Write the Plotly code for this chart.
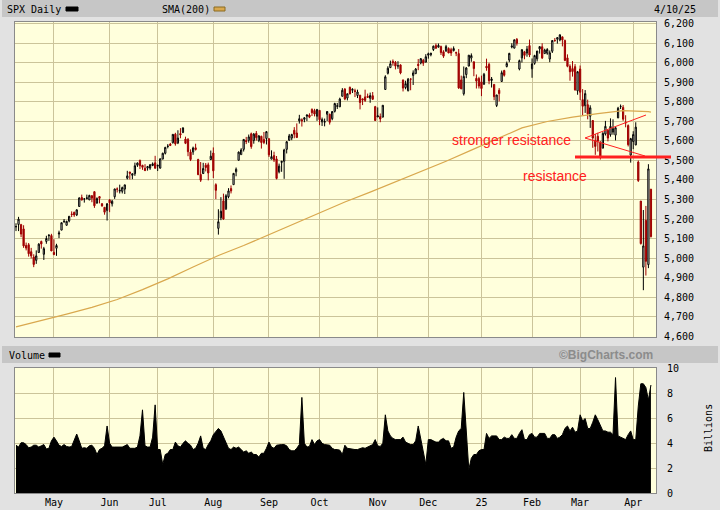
import plotly.graph_objects as go
import pandas as pd

# trading calendar 4/10/24 - 4/10/25
holidays = ["2024-05-27", "2024-06-19", "2024-07-04", "2024-09-02", "2024-11-28",
            "2024-12-25", "2025-01-01", "2025-01-09", "2025-01-20", "2025-02-17"]
dates = [d.strftime("%Y-%m-%d") for d in
         pd.bdate_range("2024-04-10", "2025-04-10", freq="C", holidays=holidays)]

opens = [
    # Apr 24
    5160, 5172, 5171, 5149, 5064, 5068, 5032, 5005, 4988, 5028, 5085, 5019, 5085, 5114, 5115,
    # May
    5029, 5050, 5123, 5143, 5187, 5168, 5190, 5226, 5234, 5221, 5264, 5310, 5303, 5305, 5298,
    5319, 5340, 5282, 5315, 5278, 5260, 5244,
    # Jun
    5298, 5278, 5314, 5354, 5343, 5342, 5353, 5409, 5441, 5424, 5432, 5476, 5500, 5475, 5460,
    5461, 5461, 5474, 5488,
    # Jul
    5471, 5461, 5507, 5537, 5572, 5584, 5591, 5635, 5590, 5638, 5644, 5610, 5608, 5543, 5544,
    5565, 5505, 5428, 5433, 5476, 5478, 5505,
    # Aug
    5538, 5376, 5152, 5206, 5293, 5252, 5314, 5356, 5376, 5442, 5501, 5530, 5557, 5602, 5603,
    5637, 5602, 5639, 5602, 5624, 5607, 5613,
    # Sep
    5612, 5507, 5525, 5508, 5442, 5490, 5496, 5557, 5604, 5615, 5655, 5641, 5703, 5709, 5711,
    5727, 5733, 5762, 5756, 5727,
    # Oct
    5757, 5698, 5696, 5737, 5737, 5714, 5752, 5778, 5775, 5829, 5866, 5820, 5875, 5860, 5858,
    5833, 5835, 5816, 5826, 5829, 5819, 5832, 5776,
    # Nov
    5723, 5725, 5722, 5864, 5947, 5976, 6008, 6003, 5985, 5990, 5912, 5874, 5858, 5918, 5936,
    5945, 5993, 6000, 6014, 6004,
    # Dec
    6040, 6042, 6069, 6090, 6081, 6084, 6057, 6060, 6074, 6068, 6063, 6053, 6048, 5913, 5842,
    5941, 5984, 6025, 6006, 5921, 5920,
    # Jan 25
    5903, 5891, 5983, 5993, 5910, 5890, 5782, 5860, 5905, 5961, 5982, 6015, 6082, 6076, 6121,
    5969, 6026, 6057, 6051, 6089,
    # Feb
    5970, 5998, 6021, 6072, 6083, 6048, 6050, 6020, 6060, 6116, 6122, 6118, 6134, 6115, 6026,
    5983, 5971, 5981, 5857,
    # Mar
    5969, 5812, 5781, 5786, 5727, 5705, 5603, 5624, 5595, 5563, 5636, 5655, 5632, 5646, 5630,
    5718, 5776, 5772, 5696, 5679, 5528,
    # Apr
    5597, 5580, 5492, 5292, 4953, 5193, 4966, 5353,
]

highs = [
    5178, 5211, 5175, 5168, 5079, 5077, 5052, 5019, 5039, 5076, 5089, 5057, 5114, 5123, 5124,
    5096, 5073, 5140, 5181, 5200, 5191, 5215, 5239, 5238, 5250, 5311, 5325, 5305, 5325, 5324,
    5323, 5342, 5311, 5315, 5282, 5260, 5281,
    5302, 5298, 5355, 5362, 5376, 5366, 5376, 5447, 5442, 5433, 5489, 5490, 5505, 5478, 5481,
    5472, 5482, 5490, 5524,
    5479, 5509, 5540, 5570, 5584, 5590, 5635, 5642, 5655, 5666, 5670, 5622, 5615, 5557, 5571,
    5586, 5509, 5492, 5488, 5487, 5489, 5551,
    5567, 5383, 5250, 5312, 5330, 5327, 5358, 5372, 5436, 5464, 5546, 5563, 5608, 5621, 5633,
    5643, 5641, 5651, 5630, 5627, 5646, 5651,
    5612, 5552, 5545, 5523, 5484, 5497, 5560, 5600, 5636, 5637, 5671, 5690, 5734, 5716, 5722,
    5736, 5742, 5767, 5765, 5763,
    5757, 5720, 5715, 5753, 5740, 5753, 5796, 5795, 5822, 5871, 5871, 5843, 5879, 5870, 5868,
    5863, 5835, 5817, 5863, 5843, 5848, 5851, 5780,
    5772, 5741, 5784, 5937, 5983, 6012, 6018, 6010, 6009, 5993, 5916, 5909, 5923, 5920, 5962,
    5974, 6020, 6025, 6021, 6045,
    6053, 6052, 6089, 6100, 6100, 6089, 6065, 6093, 6080, 6078, 6085, 6058, 6071, 5935, 5982,
    5979, 6040, 6049, 6007, 5941, 5929,
    5935, 5949, 6022, 6001, 5928, 5890, 5836, 5871, 5961, 5965, 6007, 6052, 6101, 6119, 6128,
    6017, 6070, 6062, 6087, 6120,
    6023, 6042, 6062, 6084, 6101, 6073, 6076, 6064, 6117, 6128, 6130, 6147, 6134, 6120, 6044,
    5993, 6010, 5994, 5959,
    5987, 5866, 5861, 5812, 5783, 5706, 5636, 5642, 5598, 5645, 5703, 5655, 5716, 5711, 5670,
    5775, 5787, 5784, 5732, 5685, 5616,
    5650, 5696, 5500, 5292, 5246, 5267, 5481, 5353,
]

lows = [
    5138, 5138, 5107, 5052, 5039, 5007, 4998, 4953, 4970, 5027, 5048, 4990, 5073, 5088, 5036,
    5014, 5011, 5102, 5143, 5179, 5166, 5183, 5210, 5211, 5215, 5264, 5296, 5284, 5300, 5297,
    5286, 5257, 5278, 5280, 5263, 5222, 5192,
    5235, 5264, 5303, 5336, 5331, 5331, 5328, 5403, 5403, 5404, 5421, 5467, 5456, 5452, 5447,
    5448, 5452, 5471, 5459,
    5446, 5458, 5507, 5531, 5562, 5574, 5587, 5576, 5584, 5614, 5640, 5584, 5522, 5497, 5529,
    5551, 5427, 5390, 5431, 5444, 5398, 5502,
    5410, 5302, 5120, 5194, 5196, 5246, 5306, 5331, 5376, 5419, 5501, 5530, 5546, 5584, 5591,
    5560, 5586, 5602, 5594, 5561, 5584, 5582,
    5518, 5506, 5492, 5403, 5434, 5442, 5406, 5536, 5600, 5604, 5614, 5615, 5689, 5674, 5696,
    5702, 5717, 5728, 5726, 5703,
    5681, 5677, 5675, 5702, 5684, 5706, 5746, 5764, 5775, 5829, 5809, 5808, 5840, 5846, 5825,
    5820, 5762, 5784, 5800, 5823, 5796, 5810, 5703,
    5723, 5696, 5722, 5864, 5941, 5976, 5986, 5967, 5970, 5942, 5854, 5865, 5854, 5860, 5887,
    5945, 5963, 5993, 5985, 6003,
    6022, 6034, 6061, 6075, 6079, 6041, 6026, 6060, 6051, 6036, 6059, 6035, 5867, 5866, 5833,
    5922, 5983, 6006, 5932, 5869, 5869,
    5830, 5888, 5960, 5891, 5874, 5809, 5774, 5803, 5905, 5930, 5977, 6004, 6075, 6075, 6089,
    5962, 6002, 6019, 6032, 6030,
    5924, 5991, 6008, 6048, 6020, 6048, 6042, 6004, 6051, 6108, 6099, 6111, 6085, 6009, 5978,
    5909, 5930, 5858, 5837,
    5810, 5732, 5744, 5711, 5667, 5565, 5529, 5546, 5505, 5563, 5628, 5598, 5622, 5632, 5603,
    5718, 5764, 5703, 5670, 5572, 5489,
    5558, 5578, 5390, 5069, 4835, 4910, 4948, 5105,
]

closes = [
    5161, 5199, 5123, 5062, 5051, 5022, 5011, 4967, 5011, 5071, 5072, 5048, 5100, 5116, 5036,
    5018, 5064, 5128, 5181, 5188, 5188, 5214, 5223, 5221, 5247, 5308, 5297, 5303, 5308, 5321,
    5307, 5268, 5305, 5306, 5267, 5235, 5278,
    5283, 5291, 5354, 5353, 5347, 5361, 5375, 5421, 5434, 5432, 5473, 5487, 5473, 5465, 5448,
    5469, 5478, 5483, 5460,
    5475, 5509, 5537, 5567, 5573, 5577, 5634, 5585, 5615, 5631, 5667, 5588, 5545, 5505, 5564,
    5556, 5427, 5399, 5459, 5464, 5436, 5522,
    5447, 5347, 5186, 5240, 5200, 5319, 5344, 5344, 5434, 5455, 5543, 5554, 5608, 5597, 5621,
    5571, 5635, 5617, 5626, 5592, 5592, 5648,
    5529, 5520, 5503, 5408, 5471, 5496, 5554, 5596, 5626, 5633, 5635, 5618, 5714, 5703, 5719,
    5733, 5722, 5745, 5738, 5762,
    5709, 5710, 5700, 5751, 5696, 5751, 5792, 5780, 5815, 5860, 5815, 5842, 5841, 5865, 5854,
    5851, 5797, 5810, 5808, 5824, 5833, 5814, 5705,
    5729, 5713, 5783, 5929, 5973, 5996, 6001, 5984, 5985, 5949, 5871, 5894, 5917, 5917, 5949,
    5969, 5987, 6022, 5999, 6032,
    6047, 6050, 6086, 6075, 6090, 6053, 6035, 6084, 6051, 6051, 6074, 6051, 5872, 5867, 5931,
    5974, 6040, 6038, 5971, 5907, 5882,
    5869, 5942, 5975, 5909, 5918, 5827, 5836, 5843, 5950, 5937, 5997, 6049, 6086, 6119, 6101,
    6012, 6068, 6039, 6071, 6041,
    5995, 6038, 6061, 6084, 6026, 6066, 6069, 6052, 6115, 6115, 6130, 6144, 6118, 6013, 5983,
    5955, 5956, 5862, 5955,
    5850, 5778, 5843, 5739, 5770, 5615, 5572, 5599, 5522, 5639, 5675, 5615, 5675, 5663, 5668,
    5768, 5777, 5712, 5693, 5581, 5612,
    5633, 5671, 5397, 5074, 5062, 4983, 5457, 5110,
]

# volume, billions
volume = [
    3.85, 3.7, 4.05, 4.05, 3.9, 3.65, 3.7, 3.85, 3.85, 3.7, 3.8, 3.9, 3.55, 3.6, 4.2,
    4.5, 4.2, 3.85, 3.75, 3.9, 3.75, 3.7, 3.75, 4.3, 4.75, 4.2, 3.6, 3.65, 3.6, 3.8, 3.85,
    3.6, 3.1, 3.5, 3.6, 3.8, 5.4,
    4.0, 3.7, 3.7, 3.7, 3.75, 3.7, 3.8, 3.9, 3.6, 3.6, 3.6, 3.7, 4.6, 6.7, 3.8, 3.7, 3.7,
    4.5, 7.1,
    3.5, 3.5, 2.3, 3.1, 3.2, 3.5, 3.5, 4.1, 3.8, 3.7, 4.0, 4.2, 4.0, 3.85, 3.5, 3.6, 4.0,
    4.6, 3.6, 3.5, 3.9, 4.2,
    4.7, 5.0, 5.2, 5.0, 4.5, 4.0, 3.6, 3.5, 3.7, 3.6, 3.7, 3.5, 3.3, 3.4, 3.2, 3.3, 3.1,
    3.1, 2.9, 3.2, 3.2, 3.6,
    4.1, 3.7, 3.6, 3.85, 3.9, 3.9, 3.9, 3.8, 3.5, 3.4, 3.4, 3.6, 3.9, 7.7, 4.0, 3.7, 3.75,
    4.3, 3.9, 4.2,
    4.3, 4.0, 3.9, 3.85, 3.85, 3.6, 3.5, 3.5, 3.45, 3.1, 3.85, 3.6, 3.55, 3.5, 3.5, 3.5,
    3.6, 3.65, 3.6, 3.7, 3.85, 3.9, 4.3,
    3.8, 3.75, 4.0, 6.3, 5.0, 4.6, 4.4, 4.3, 4.3, 4.3, 4.5, 4.1, 4.0, 3.9, 3.9, 4.2, 5.4,
    4.3, 3.5, 2.3,
    4.3, 4.3, 4.2, 4.1, 4.1, 4.3, 4.4, 4.2, 4.2, 3.6, 3.7, 4.5, 5.0, 5.2, 8.1, 5.0, 1.9,
    2.8, 3.1, 3.1, 3.4,
    3.5, 3.5, 4.8, 4.4, 4.6, 4.6, 4.6, 4.3, 4.3, 4.5, 4.4, 4.4, 4.7, 4.4, 4.4, 4.8, 5.1,
    4.3, 4.3, 4.7,
    4.8, 4.5, 4.5, 4.8, 4.8, 4.8, 4.4, 4.4, 4.7, 4.7, 4.4, 4.5, 4.7, 5.2, 5.4, 5.0, 5.3,
    4.9, 5.0,
    6.3, 5.8, 6.0, 5.2, 5.2, 5.7, 6.3, 5.9, 5.4, 5.0, 5.0, 4.9, 4.9, 4.7, 9.3, 4.6, 4.5,
    4.4, 4.3, 4.7, 5.0,
    4.3, 4.3, 7.0, 8.8, 8.8, 8.5, 7.5, 8.7,
]

# 200-day SMA read every 10 sessions (plus the last one)
sma_idx = list(range(0, 252, 10)) + [251]
sma200 = [4647, 4679, 4712, 4747, 4787, 4838, 4893, 4954, 5013, 5064, 5120, 5175, 5231,
          5287, 5338, 5390, 5442, 5496, 5553, 5610, 5667, 5700, 5722, 5740, 5756, 5750, 5748]

month_labels = ["May", "Jun", "Jul", "Aug", "Sep", "Oct", "Nov", "Dec", "25", "Feb", "Mar", "Apr"]
month_starts = []
for d in dates:
    if d[:7] != dates[0][:7] and (not month_starts or month_starts[-1][:7] != d[:7]):
        month_starts.append(d)

assert len(dates) == len(opens) == len(highs) == len(lows) == len(closes) == len(volume)

W, H = 720, 510
def px(x):
    return x / W
def py(y):
    return 1 - y / H

GRID = "#cbc49a"
MONO = "DejaVu Sans Mono"

fig = go.Figure()
fig.add_trace(go.Candlestick(
    x=dates, open=opens, high=highs, low=lows, close=closes,
    increasing=dict(line=dict(color="black", width=1), fillcolor="white"),
    decreasing=dict(line=dict(color="#a00000", width=1), fillcolor="#a00000"),
    whiskerwidth=0, showlegend=False, hoverinfo="skip",
))
fig.add_trace(go.Scatter(
    x=[dates[i] for i in sma_idx], y=sma200, mode="lines",
    line=dict(color="#d9a84e", width=1.2), showlegend=False, hoverinfo="skip",
))
fig.add_trace(go.Scatter(
    x=dates, y=volume, mode="lines", fill="tozeroy",
    line=dict(color="black", width=1), fillcolor="black",
    xaxis="x2", yaxis="y2", showlegend=False, hoverinfo="skip",
))

xr = [-0.4, 253]
common_x = dict(type="category", range=xr, tickvals=month_starts, ticktext=month_labels,
                showgrid=True, gridcolor=GRID, gridwidth=1, zeroline=False,
                rangeslider=dict(visible=False), showline=True, linecolor="#8a8a8a",
                mirror=True, ticks="", domain=[px(15), px(656)], automargin=False,
                tickfont=dict(family=MONO, size=10, color="black"))

fig.update_layout(
    width=W, height=H, margin=dict(l=0, r=0, t=0, b=0),
    paper_bgcolor="#e2e2e2", plot_bgcolor="#ffffdc",
    xaxis=dict(common_x, anchor="y", showticklabels=False),
    xaxis2=dict(common_x, anchor="y2", matches="x", showticklabels=True),
    yaxis=dict(domain=[py(337), py(22)], range=[4595, 6210], side="right", dtick=100,
               tickformat=",", showgrid=True, gridcolor=GRID, zeroline=False,
               showline=True, linecolor="#8a8a8a", mirror=True, ticks="", automargin=False,
               ticklabelstandoff=5, tickfont=dict(family=MONO, size=10, color="black")),
    yaxis2=dict(domain=[py(493), py(368)], range=[0, 10.07], side="right", dtick=2,
                showgrid=True, gridcolor=GRID, zeroline=False, automargin=False,
                showline=True, linecolor="#8a8a8a", mirror=True, ticks="",
                ticklabelstandoff=8, tickfont=dict(family=MONO, size=10, color="black")),
)

shapes = [
    # header bands
    dict(type="rect", xref="paper", yref="paper", x0=px(2), x1=px(718), y0=py(17), y1=py(0),
         fillcolor="#c6c6c6", line=dict(width=0), layer="below"),
    dict(type="rect", xref="paper", yref="paper", x0=px(2), x1=px(718), y0=py(363), y1=py(346),
         fillcolor="#c6c6c6", line=dict(width=0), layer="below"),
    # legend swatches
    dict(type="rect", xref="paper", yref="paper", x0=px(66), x1=px(78), y0=py(11), y1=py(7),
         fillcolor="black", line=dict(color="black", width=1)),
    dict(type="rect", xref="paper", yref="paper", x0=px(214), x1=px(225), y0=py(11), y1=py(7),
         fillcolor="#d9a84e", line=dict(color="#8a6a20", width=1)),
    dict(type="rect", xref="paper", yref="paper", x0=px(49), x1=px(60), y0=py(357), y1=py(353),
         fillcolor="black", line=dict(color="black", width=1)),
    # resistance markup
    dict(type="line", xref="paper", yref="paper", x0=px(575), x1=px(671), y0=py(157), y1=py(157),
         line=dict(color="#ff2020", width=3)),
    dict(type="line", xref="paper", yref="paper", x0=px(585), x1=px(646), y0=py(138), y1=py(115),
         line=dict(color="#ff2020", width=1)),
    dict(type="line", xref="paper", yref="paper", x0=px(585), x1=px(645), y0=py(138), y1=py(156),
         line=dict(color="#ff2020", width=1)),
]

def label(text, x, y, anchor="left", size=10, color="black", family=MONO, angle=0, bold=False):
    if bold:
        text = "<b>" + text + "</b>"
    return dict(text=text, x=px(x), y=py(y), xref="paper", yref="paper", showarrow=False,
                xanchor=anchor, yanchor="middle", textangle=angle,
                font=dict(family=family, size=size, color=color))

annotations = [
    label("SPX Daily", 5, 9),
    label("SMA(200)", 160, 9),
    label("4/10/25", 698, 9, anchor="right"),
    label("Volume", 7, 355),
    label("©BigCharts.com", 655, 355, anchor="right", size=12, color="#8c8c8c",
          family="Liberation Sans", bold=True),
    label("Billions", 708, 428, anchor="center", angle=-90),
    label("stronger resistance", 450, 140, size=14, color="#ff2020", family="Liberation Sans"),
    label("resistance", 521, 176, size=14, color="#ff2020", family="Liberation Sans"),
]

fig.update_layout(shapes=shapes, annotations=annotations)
# drop the page's default body margin so the chart sits at the window corner
fig.write_html("out.html", config={"displayModeBar": False},
               post_script="document.body.style.margin='0';")
